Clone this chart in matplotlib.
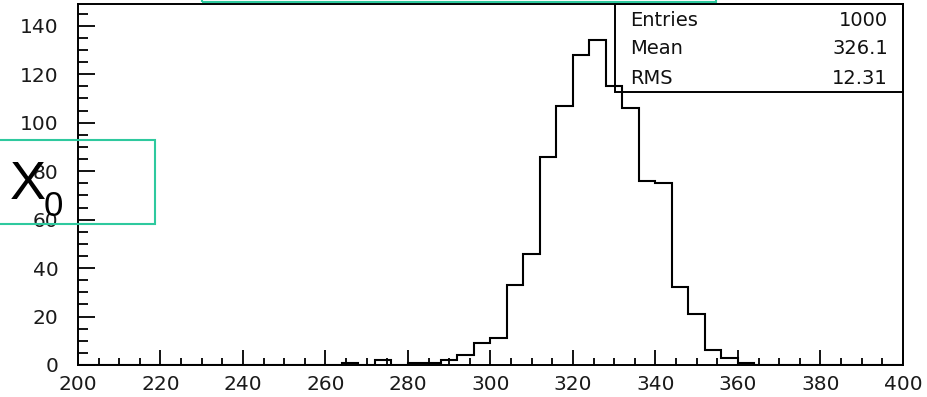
import numpy as np
import matplotlib
matplotlib.use("Agg")
import matplotlib.pyplot as plt
from matplotlib.patches import Rectangle
from matplotlib.ticker import MultipleLocator

# Histogram: 50 bins of width 4 between 200 and 400
bin_low = 200
bin_high = 400
n_bins = 50
counts = [0, 0, 0, 0, 0, 0, 0, 0, 0, 0,
          0, 0, 0, 0, 0, 0, 1, 0, 2, 0,
          1, 1, 2, 4, 9, 11, 33, 46, 86, 107,
          128, 134, 115, 106, 76, 75, 32, 21, 6, 3,
          1, 0, 0, 0, 0, 0, 0, 0, 0, 0]

stat_names = ["Entries", "Mean", "RMS"]
stat_mean = "326.1"
stat_rms = "12.31"

x_ticks = list(range(200, 401, 20))
y_ticks = list(range(0, 141, 20))
axis_label = "X"
axis_label_sub = "0"

W, H = 928, 397
fig = plt.figure(figsize=(W / 100, H / 100), dpi=100)
ax = fig.add_axes([78 / W, (H - 365) / H, (903 - 78) / W, (365 - 4) / H])


def px(x, y):
    return x / W, 1 - y / H


# Statistics box in the upper right corner, beneath the histogram line
bx0, by0 = px(615, 92)
bx1, by1 = px(903, 4)
stat_box = Rectangle((bx0, by0), bx1 - bx0, by1 - by0,
                     transform=fig.transFigure, facecolor="white",
                     edgecolor="black", lw=1.4, zorder=1, clip_on=False)
ax.add_patch(stat_box)

edges = np.linspace(bin_low, bin_high, n_bins + 1)
ax.stairs(counts, edges, baseline=0, color="black", lw=1.5, zorder=3)

ax.set_xlim(bin_low, bin_high)
ax.set_ylim(0, 149)
ax.set_xticks(x_ticks)
ax.set_yticks(y_ticks)
ax.xaxis.set_minor_locator(MultipleLocator(5))
ax.yaxis.set_minor_locator(MultipleLocator(5))
ax.tick_params(axis="x", which="major", direction="in", length=11, width=1.3,
               pad=7, labelsize=14.5)
ax.tick_params(axis="x", which="minor", direction="in", length=5.2, width=1.3)
ax.tick_params(axis="y", which="major", direction="in", length=12, width=1.3,
               pad=14, labelsize=14.5)
ax.tick_params(axis="y", which="minor", direction="in", length=7, width=1.3)
ax.tick_params(top=False, right=False, which="both")
for s in ax.spines.values():
    s.set_linewidth(1.4)
for lbl in ax.get_xticklabels() + ax.get_yticklabels():
    lbl.set_color("#1a1a1a")

stat_values = [str(int(sum(counts))), stat_mean, stat_rms]
for name, val, yy in zip(stat_names, stat_values, [20, 49, 79]):
    fig.text(*px(630, yy), name, ha="left", va="center", fontsize=14,
             color="#111111", zorder=6)
    fig.text(*px(888, yy), val, ha="right", va="center", fontsize=14,
             color="#111111", zorder=6)

# Title frame at the top and axis-label frame on the left
teal = "#2ec99e"
tx0, ty0 = px(202, 1.5)
tx1, ty1 = px(716, -20)
fig.patches.append(Rectangle((tx0, ty0), tx1 - tx0, ty1 - ty0,
                             transform=fig.transFigure, facecolor="none",
                             edgecolor=teal, lw=1.5, zorder=7))
lx0, ly0 = px(-10, 224)
lx1, ly1 = px(155, 140)
fig.patches.append(Rectangle((lx0, ly0), lx1 - lx0, ly1 - ly0,
                             transform=fig.transFigure, facecolor="none",
                             edgecolor=teal, lw=1.5, zorder=7))
fig.text(*px(10, 185), axis_label, ha="left", va="center", fontsize=39,
         family="Liberation Sans", zorder=8)
fig.text(*px(44, 206), axis_label_sub, ha="left", va="center", fontsize=25,
         family="Liberation Sans", zorder=8)

fig.savefig("out.png", dpi=100)
